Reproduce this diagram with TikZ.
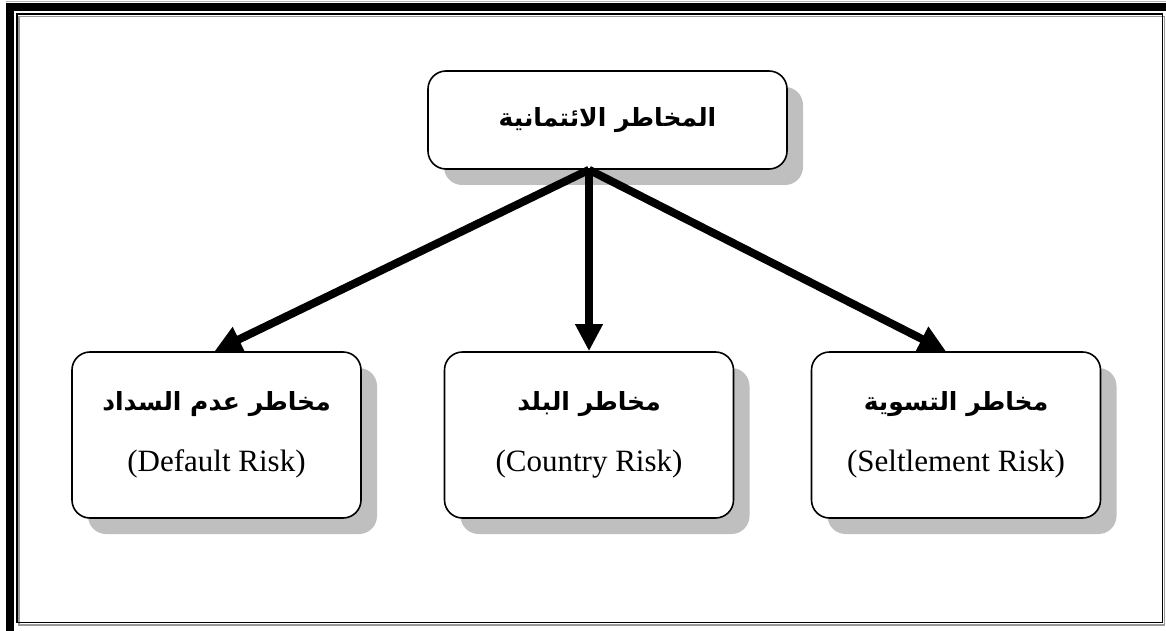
\documentclass[tikz,border=0pt]{standalone}
\usepackage{fontspec}
\setmainfont{Liberation Serif}
\newfontfamily\arabicfont[Script=Arabic]{DejaVu Sans}
\TeXXeTstate=1
\usetikzlibrary{arrows.meta,positioning,shadows,calc}
\colorlet{ShadowGray}{black!25}
\begin{document}
\begin{tikzpicture}[x=1pt,y=-1pt,
      riskbox/.style={draw=black,line width=1.6pt,fill=white,rounded corners=18pt,
        align=center,inner sep=0pt,
        drop shadow={shadow xshift=16pt,shadow yshift=-16pt,fill=ShadowGray,opacity=1}},
      topbox/.style={riskbox,minimum width=359pt,minimum height=98pt},
      subbox/.style={riskbox,minimum width=289pt,minimum height=166pt},
      link/.style={line width=8pt,-{Triangle[length=27pt,width=26pt]}}
    ]
    \useasboundingbox (0,0) rectangle (1166,631);
    % double cadre autour du schéma
    \begin{scope}
      \clip (0,0) rectangle (1166,631);
      \draw[black!30,line width=1pt] (6,2) -- (1172,2);
      \draw[line width=8pt] (10,7) rectangle (1180,636);
      \draw[black!40,line width=1.5pt] (19,16.5) rectangle (1164.5,625);
      \draw[line width=1.8pt] (17,14) rectangle (1162.5,622.5);
    \end{scope}

    \node[topbox] (credit) at (607.5,120)
      {\arabicfont\bfseries\fontsize{25}{30}\selectfont\beginR المخاطر الائتمانية\endR};

    \node[subbox] (default) at (216.5,435)
      {{\arabicfont\bfseries\fontsize{25}{30}\selectfont\beginR مخاطر عدم السداد\endR}\\[32pt]
       {\fontsize{31}{34}\selectfont (Default Risk)}};
    \node[subbox] (country) at (589,435)
      {{\arabicfont\bfseries\fontsize{25}{30}\selectfont\beginR مخاطر البلد\endR}\\[32pt]
       {\fontsize{31}{34}\selectfont (Country Risk)}};
    \node[subbox] (settle) at (956,435)
      {{\arabicfont\bfseries\fontsize{25}{30}\selectfont\beginR مخاطر التسوية\endR}\\[32pt]
       {\fontsize{31}{34}\selectfont (Seltlement Risk)}};

    \coordinate (apex) at (credit.south -| country.north);
    \draw[link] (apex) -- ($(default.north)+(-2,0)$);
    \draw[link] (apex) -- (country.north);
    \draw[link] (apex) -- ($(settle.north)+(-10,0)$);
  \end{tikzpicture}
\end{document}
